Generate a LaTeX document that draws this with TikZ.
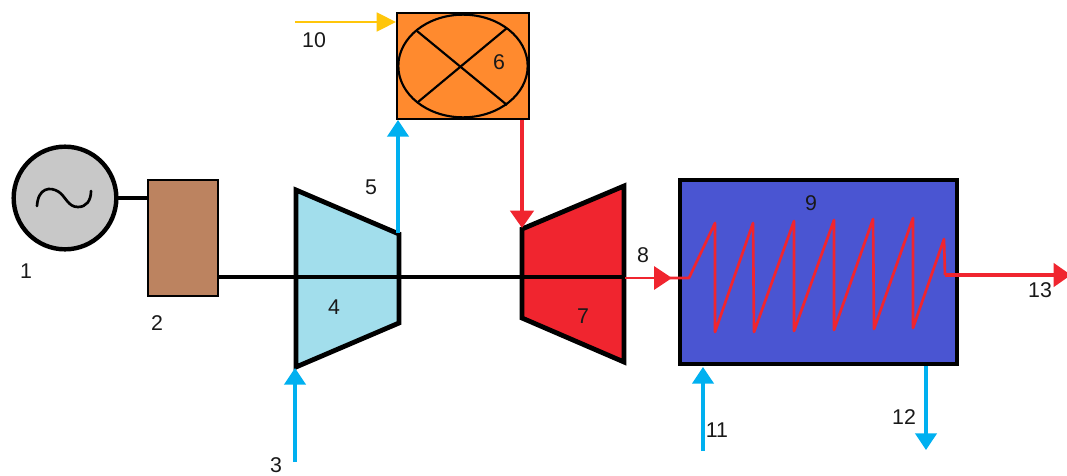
\documentclass[tikz,border=0pt]{standalone}
\usepackage{fontspec}
\setmainfont{Liberation Sans}
\usetikzlibrary{arrows.meta,shapes.geometric}
\definecolor{cblue}{HTML}{00B0F0}
\definecolor{cred}{HTML}{F0252F}
\definecolor{cyel}{HTML}{FFC60A}
\definecolor{cgrey}{HTML}{C8C8C8}
\definecolor{cbrown}{HTML}{BC8360}
\definecolor{clight}{HTML}{A2DEEC}
\definecolor{corange}{HTML}{FF8A2E}
\definecolor{cindigo}{HTML}{4A55D2}
\tikzset{
  px/.style={x=0.75pt,y=-0.75pt},
  lab/.style={font=\fontsize{16}{18}\selectfont,text=black!90,inner sep=0pt},
  box/.style={draw=black,inner sep=0pt,outer sep=0pt},
  flow/.style={line width=2.5pt,-{Triangle[length=12.5pt,width=16pt]}},
  redflow/.style={line width=2.5pt,cred,-{Triangle[length=13pt,width=17.5pt]}},
  thinflow/.style={line width=1.9pt,cred,-{Triangle[length=13.5pt,width=17.5pt]}},
  yelflow/.style={line width=2.2pt,cyel,-{Triangle[length=14.5pt,width=14pt]}},
  shaft/.style={draw=black,line width=3.2pt},
  hull/.style={draw=black,line width=3.6pt,line join=miter},
}
\begin{document}
\begin{tikzpicture}[px]
\useasboundingbox (0,0) rectangle (1067,475);
% coordinates
\coordinate (c1) at (296,190); \coordinate (c2) at (399,234); \coordinate (c3) at (399,323); \coordinate (c4) at (296,367);
\coordinate (t1) at (522,229); \coordinate (t2) at (624,186); \coordinate (t3) at (624,362); \coordinate (t4) at (522,318);
\coordinate (in3) at (295,462); \coordinate (in3e) at (295,368);
\coordinate (out5s) at (398,233); \coordinate (out5e) at (398,120);
\coordinate (in10) at (295,22); \coordinate (in10e) at (396,22);
\coordinate (hots) at (522,120); \coordinate (hote) at (522,228);
\coordinate (ex8s) at (625,278); \coordinate (ex8e) at (672,278);
\coordinate (in11) at (703,451); \coordinate (in11e) at (703,367);
\coordinate (out12s) at (926,366); \coordinate (out12e) at (926,450);
\coordinate (out13s) at (945,275); \coordinate (out13e) at (1071,275);
% generator and gearbox
\node[box,circle,line width=3.3pt,fill=cgrey,minimum size=77pt] (gen) at (65,198) {};
\node[box,line width=1.7pt,fill=cbrown,minimum width=53pt,minimum height=87pt] (gear) at (183,238) {};
\draw[shaft] (gen.east) -- (gear.west |- gen.east);
\draw[line width=2pt,line cap=round] (37,206) .. controls (38,188) and (50,186) .. (59,192)
  .. controls (66,197) and (68,207) .. (78,207) .. controls (86,207) and (91,201) .. (91,191);
% compressor
\draw[hull,fill=clight] (c1) -- (c2) -- (c3) -- (c4) -- cycle;
% turbine
\draw[hull,fill=cred] (t1) -- (t2) -- (t3) -- (t4) -- cycle;
% shaft
\coordinate (shaftend) at (624,277);
\draw[shaft] (gear.east |- shaftend) -- (shaftend);
% combustor
\node[box,line width=1.5pt,fill=corange,minimum width=99pt,minimum height=79.5pt] (comb) at (463,66) {};
\node[draw=black,line width=1.6pt,ellipse,inner sep=0pt,outer sep=0pt,minimum width=97pt,minimum height=77pt] (flame) at (463,66) {};
\draw[line width=1.6pt] (417,31) -- (507,105);
\draw[line width=1.6pt] (507,28) -- (418,102);
% recuperator
\node[box,line width=3.4pt,fill=cindigo,minimum width=208pt,minimum height=138pt] (hrsg) at (818.5,272) {};
\draw[draw=cred,line width=2pt,line join=round]
  (670,278) -- (689,278) -- (715,223) -- (715,332) -- (753,223) -- (754,332) -- (794,221) -- (794,331)
  -- (834,220) -- (834,330) -- (873,219) -- (874,329) -- (913,218) -- (913,328) -- (944,239) -- (945,275) -- (out13s);
% flows
\draw[flow,cblue] (in3) -- (in3e);
\draw[flow,cblue] (out5s) -- (out5e);
\draw[yelflow] (in10) -- (in10e);
\draw[redflow] (hots) -- (hote);
\draw[thinflow] (ex8s) -- (ex8e);
\draw[flow,cblue] (in11) -- (in11e);
\draw[flow,cblue] (out12s) -- (out12e);
\draw[redflow] (out13s) -- (out13e);
% labels
\node[lab] (l1) at (26,271) {1};
\node[lab] (l2) at (157,323) {2};
\node[lab] (l3) at (276,465) {3};
\node[lab] (l4) at (334,307) {4};
\node[lab] (l5) at (371,187) {5};
\node[lab] (l6) at (499,62) {6};
\node[lab] (l7) at (583,316) {7};
\node[lab] (l8) at (643,255) {8};
\node[lab] (l9) at (811,203) {9};
\node[lab] (l10) at (314,40) {10};
\node[lab] (l11) at (717,430) {11};
\node[lab] (l12) at (904,417) {12};
\node[lab] (l13) at (1040,290) {13};
\end{tikzpicture}
\end{document}
